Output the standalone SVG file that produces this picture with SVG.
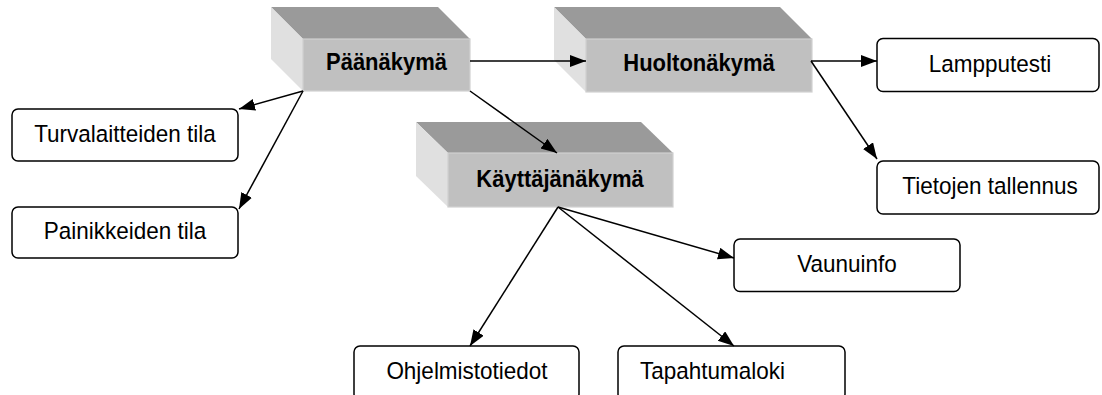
<svg xmlns="http://www.w3.org/2000/svg" width="1102" height="395" viewBox="0 0 1102 395">
  <style>
    .top { fill: #9a9a9a; }
    .side { fill: #e0e0e0; }
    .front { fill: #c0c0c0; stroke: #d0d0d0; stroke-width: 1.2; }
    .bold { font-family: "Liberation Sans", Arial, sans-serif; font-size: 22px; font-weight: bold; fill: #000; text-anchor: middle; }
    .box { fill: #fff; stroke: #000; stroke-width: 1.5; }
    .lbl { font-family: "Liberation Sans", Arial, sans-serif; font-size: 22.5px; fill: #000; text-anchor: middle; }
    .lbl.left { text-anchor: start; }
    .edge { stroke: #000; stroke-width: 1.5; fill: none; marker-end: url(#arrow); }
  </style>
  <defs>
    <marker id="arrow" markerUnits="userSpaceOnUse" markerWidth="18" markerHeight="14" refX="16" refY="6" orient="auto">
      <path d="M0,0 L16,6 L0,12 z" fill="#000"/>
    </marker>
  </defs>

  <!-- 3D view blocks (labels slightly stretched vertically) -->
  <g id="paanakyma">
    <polygon class="top" points="271,7 438,7 470,39 303,39"/>
    <polygon class="side" points="271,7 303,39 303,91 271,59"/>
    <rect class="front" x="303" y="39" width="167" height="52"/>
    <text class="bold" transform="translate(386.5,70) scale(1,1.1)">Päänäkymä</text>
  </g>
  <g id="huoltonakyma">
    <polygon class="top" points="554,7 780,7 812,39 586,39"/>
    <polygon class="side" points="554,7 586,39 586,92 554,60"/>
    <rect class="front" x="586" y="39" width="226" height="53"/>
    <text class="bold" transform="translate(699,70.5) scale(1,1.1)">Huoltonäkymä</text>
  </g>
  <g id="kayttajanakyma">
    <polygon class="top" points="416,122 641,122 673,153 448,153"/>
    <polygon class="side" points="416,122 448,153 448,207 416,176"/>
    <rect class="front" x="448" y="153" width="225" height="54"/>
    <text class="bold" transform="translate(560,187) scale(1,1.1)">Käyttäjänäkymä</text>
  </g>

  <!-- leaf views -->
  <g id="turvalaitteiden">
    <rect class="box" x="12" y="109" width="226" height="52" rx="6"/>
    <text class="lbl" transform="translate(125,142) scale(1,1.06)">Turvalaitteiden tila</text>
  </g>
  <g id="painikkeiden">
    <rect class="box" x="12" y="207" width="226" height="51" rx="6"/>
    <text class="lbl" transform="translate(125,239) scale(1,1.06)">Painikkeiden tila</text>
  </g>
  <g id="lampputesti">
    <rect class="box" x="877" y="38.5" width="222" height="53" rx="6"/>
    <text class="lbl" transform="translate(990,72) scale(1,1.06)">Lampputesti</text>
  </g>
  <g id="tietojen">
    <rect class="box" x="877" y="161" width="222" height="53" rx="6"/>
    <text class="lbl" transform="translate(990,193.5) scale(1,1.06)">Tietojen tallennus</text>
  </g>
  <g id="vaunuinfo">
    <rect class="box" x="734" y="239" width="226" height="52.5" rx="6"/>
    <text class="lbl" transform="translate(847,272) scale(1,1.06)">Vaunuinfo</text>
  </g>
  <g id="ohjelmistotiedot">
    <rect class="box" x="354" y="346" width="225" height="54" rx="6"/>
    <text class="lbl" transform="translate(467,378.5) scale(1,1.06)">Ohjelmistotiedot</text>
  </g>
  <g id="tapahtumaloki">
    <rect class="box" x="618" y="346" width="227" height="54" rx="6"/>
    <text class="lbl left" transform="translate(640,378.5) scale(1,1.06)">Tapahtumaloki</text>
  </g>

  <!-- connectors, drawn over the blocks -->
  <g id="connectors">
    <line class="edge" x1="470" y1="61" x2="586" y2="61"/>
    <line class="edge" x1="470" y1="91" x2="557" y2="153"/>
    <line class="edge" x1="303" y1="91" x2="239" y2="109"/>
    <line class="edge" x1="303" y1="91" x2="239" y2="209"/>
    <line class="edge" x1="811" y1="61" x2="877" y2="61"/>
    <line class="edge" x1="811" y1="61" x2="877" y2="159"/>
    <line class="edge" x1="558" y1="207" x2="734" y2="258"/>
    <line class="edge" x1="558" y1="207" x2="470" y2="346"/>
    <line class="edge" x1="558" y1="207" x2="734" y2="346"/>
  </g>
</svg>
